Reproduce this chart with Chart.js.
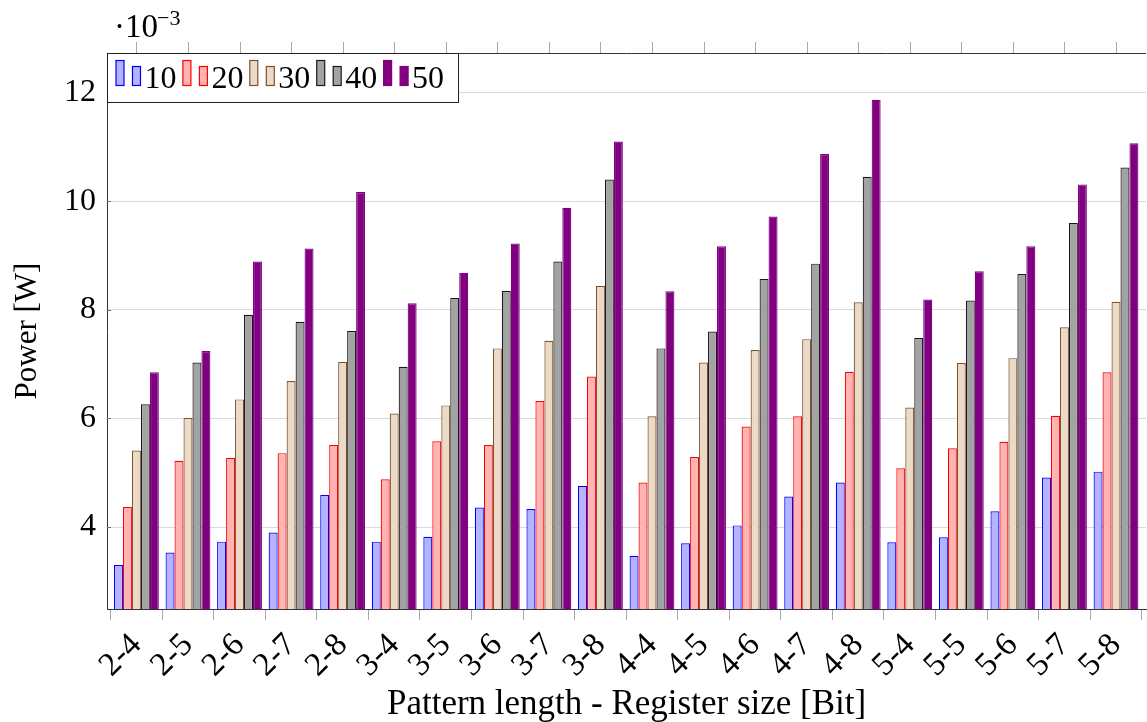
<!DOCTYPE html>
<html>
<head>
<meta charset="utf-8">
<script src="https://cdn.jsdelivr.net/npm/chart.js@4.4.1/dist/chart.umd.min.js"></script>
<style>
  html, body { margin: 0; padding: 0; background: #fff; overflow: hidden; }
</style>
</head>
<body>
<canvas id="myChart" width="1150" height="722"></canvas>
<script>
const categories = ['2-4', '2-5', '2-6', '2-7', '2-8', '3-4', '3-5', '3-6', '3-7', '3-8',
                    '4-4', '4-5', '4-6', '4-7', '4-8', '5-4', '5-5', '5-6', '5-7', '5-8'];
const seriesNames = ['10', '20', '30', '40', '50'];
const yTicks = [4, 6, 8, 10, 12];

// power in units of 10^-3 W
const power10 = [3.30, 3.53, 3.73, 3.90, 4.59, 3.73, 3.82, 4.36, 4.33, 4.76, 3.47, 3.70, 4.03, 4.56, 4.82, 3.72, 3.81, 4.29, 4.91, 5.02];
const power20 = [4.37, 5.22, 5.27, 5.36, 5.51, 4.88, 5.58, 5.51, 6.32, 6.77, 4.82, 5.29, 5.85, 6.04, 6.86, 5.08, 5.45, 5.57, 6.05, 6.85];
const power30 = [5.41, 6.01, 6.35, 6.69, 7.04, 6.09, 6.24, 7.29, 7.43, 8.44, 6.04, 7.03, 7.26, 7.46, 8.14, 6.20, 7.02, 7.11, 7.68, 8.15];
const power40 = [6.26, 7.03, 7.91, 7.78, 7.61, 6.95, 8.22, 8.35, 8.89, 10.40, 7.29, 7.60, 8.57, 8.85, 10.45, 7.48, 8.17, 8.66, 9.60, 10.62];
const power50 = [6.85, 7.24, 8.89, 9.13, 10.17, 8.12, 8.68, 9.22, 9.88, 11.10, 8.34, 9.17, 9.72, 10.87, 11.87, 8.19, 8.71, 9.17, 10.31, 11.07];

const serif = '"Liberation Serif", "Times New Roman", serif';
const fills = ['#b3b3ff', '#ffb3b3', '#ecd9c6', '#a3a3a3', '#800080'];
const borders = ['#0000ff', '#ff0000', '#7a5432', '#1a1a1a', '#800080'];

const series = [power10, power20, power30, power40, power50];
const datasets = series.map((vals, k) => ({
    label: seriesNames[k],
    data: vals.map((v, i) => ({ x: i, y: v })),
    backgroundColor: fills[k],
    borderColor: borders[k],
    borderWidth: 1.2,
    borderSkipped: 'start',
    categoryPercentage: 0.87,
    barPercentage: 1.0
}));

// frame, top ticks, exponent label, pgfplots style legend
const extras = {
    id: 'extras',
    afterDraw(chart) {
        const { ctx, chartArea: a, scales } = chart;
        ctx.save();
        // top axis ticks
        ctx.strokeStyle = '#aaaaaa';
        ctx.lineWidth = 1;
        scales.x.ticks.forEach(t => {
            const px = Math.round(scales.x.getPixelForValue(t.value)) + 0.5;
            ctx.beginPath();
            ctx.moveTo(px, a.top - 11);
            ctx.lineTo(px, a.top);
            ctx.stroke();
        });
        // small y ticks inside on left
        ctx.strokeStyle = '#707070';
        scales.y.ticks.forEach(t => {
            const py = Math.round(scales.y.getPixelForValue(t.value)) + 0.5;
            ctx.beginPath();
            ctx.moveTo(a.left, py);
            ctx.lineTo(a.left + 4, py);
            ctx.stroke();
        });
        ctx.strokeStyle = '#333333';
        ctx.beginPath();
        ctx.moveTo(a.left, a.top + 0.5);
        ctx.lineTo(a.right, a.top + 0.5);
        ctx.stroke();

        // exponent
        ctx.fillStyle = '#000';
        ctx.textBaseline = 'alphabetic';
        ctx.textAlign = 'left';
        ctx.font = '33px ' + serif;
        ctx.fillText('\u00b710', 114, 37);
        ctx.font = '22px ' + serif;
        ctx.fillText('\u22123', 157, 25);

        // legend
        const lx = 107.5, ly = 53.5, lw = 351, lh = 49;
        ctx.fillStyle = '#fff';
        ctx.fillRect(lx, ly, lw, lh);
        ctx.strokeStyle = '#222';
        ctx.strokeRect(lx, ly, lw, lh);
        ctx.lineWidth = 1.2;
        chart.data.datasets.forEach((ds, k) => {
            const x0 = 116 + 66.9 * k;
            ctx.fillStyle = ds.backgroundColor;
            ctx.strokeStyle = ds.borderColor;
            ctx.fillRect(x0, 60.5, 8, 25);
            ctx.strokeRect(x0, 60.5, 8, 25);
            ctx.fillRect(x0 + 16.5, 66.5, 8, 19);
            ctx.strokeRect(x0 + 16.5, 66.5, 8, 19);
            ctx.fillStyle = '#000';
            ctx.font = '32px ' + serif;
            ctx.fillText(ds.label, x0 + 28.5, 87.5);
        });
        ctx.restore();
    }
};

const ctx = document.getElementById('myChart');
new Chart(ctx, {
    type: 'bar',
    data: { datasets: datasets },
    options: {
        responsive: false,
        animation: false,
        devicePixelRatio: 1,
        layout: { padding: { left: 0, right: 0, top: 53, bottom: 0 } },
        plugins: { legend: { display: false }, tooltip: { enabled: false } },
        scales: {
            x: {
                type: 'linear',
                min: -0.5706,
                max: 19.584,
                offset: false,
                afterFit: s => { s.height = 113; },
                ticks: {
                    stepSize: 1,
                    includeBounds: false,
                    autoSkip: false,
                    minRotation: 45,
                    maxRotation: 45,
                    padding: 6,
                    color: '#000',
                    font: { family: serif, size: 33 },
                    callback: v => Number.isInteger(v) ? categories[v] : ''
                },
                grid: { drawOnChartArea: false, tickLength: 11, color: '#aaaaaa' },
                border: { color: '#333333', width: 1 },
                title: {
                    display: true,
                    text: 'Pattern length - Register size [Bit]',
                    color: '#000',
                    font: { family: serif, size: 35, lineHeight: 1 },
                    padding: { top: 0, bottom: 0 }
                }
            },
            y: {
                min: 2.49,
                max: 12.73,
                afterFit: s => { s.width = 107; },
                afterBuildTicks: s => { s.ticks = yTicks.map(v => ({ value: v })); },
                ticks: {
                    stepSize: 2,
                    includeBounds: false,
                    padding: 11,
                    color: '#000',
                    font: { family: serif, size: 32 }
                },
                grid: { color: '#dadada', drawTicks: false },
                border: { color: '#333333', width: 1 },
                title: {
                    display: true,
                    text: 'Power [W]',
                    color: '#000',
                    font: { family: serif, size: 31 },
                    padding: { top: 9, bottom: 0 }
                }
            }
        }
    },
    plugins: [extras]
});
</script>
</body>
</html>
